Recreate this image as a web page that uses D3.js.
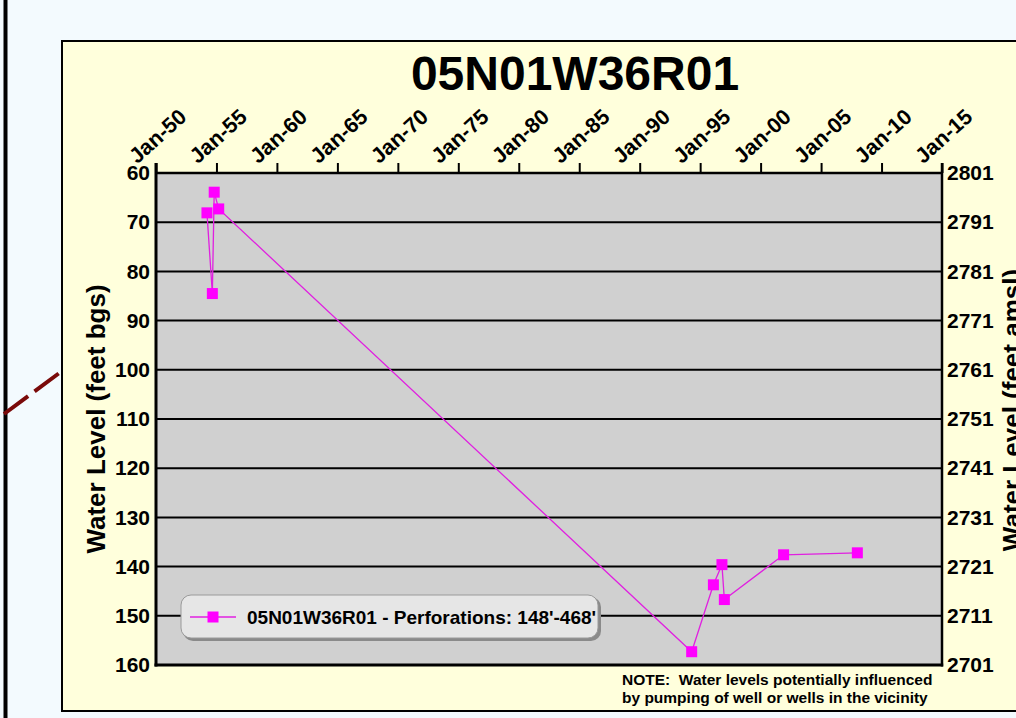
<!DOCTYPE html>
<html>
<head>
<meta charset="utf-8">
<script src="https://cdn.jsdelivr.net/npm/d3@7"></script>
<style>
  html, body { margin: 0; padding: 0; background: #F3FAFE; }
  svg { display: block; }
  text { font-family: "Liberation Sans", Arial, sans-serif; font-weight: bold; fill: #000; }
</style>
</head>
<body>
<svg id="chart" width="1016" height="718"></svg>
<script>
// ---- data ----
const wellName = "05N01W36R01";
const legendLabel = "05N01W36R01 - Perforations: 148'-468'";
const measureDates = ["1954-03-20", "1954-08-30", "1954-10-25", "1955-03-10", "1994-04-20",
                      "1996-02-05", "1996-10-20", "1997-01-01", "2001-11-25", "2008-01-01"];
const depthBgs = [68.1, 84.5, 63.9, 67.3, 157.3, 143.7, 139.6, 146.7, 137.6, 137.2];
const xTickYears = [1950, 1955, 1960, 1965, 1970, 1975, 1980, 1985, 1990, 1995, 2000, 2005, 2010, 2015];
const leftTicks = [60, 70, 80, 90, 100, 110, 120, 130, 140, 150, 160];
const rightTicks = [2801, 2791, 2781, 2771, 2761, 2751, 2741, 2731, 2721, 2711, 2701];
const noteLines = ["NOTE:  Water levels potentially influenced", "by pumping of well or wells in the vicinity"];

// ---- layout ----
const svg = d3.select("#chart");
const P = { left: 156, right: 942, top: 173, bottom: 665 };

// page furniture
svg.append("rect").attr("x", 0).attr("y", 0).attr("width", 1016).attr("height", 718).attr("fill", "#F3FAFE");
svg.append("rect").attr("x", 3.5).attr("y", 0).attr("width", 4).attr("height", 718).attr("fill", "#000");
svg.append("line").attr("x1", 4).attr("y1", 414).attr("x2", 62).attr("y2", 371)
   .attr("stroke", "#7A0A0A").attr("stroke-width", 4).attr("stroke-dasharray", "30,8");

// panel
svg.append("rect").attr("x", 62).attr("y", 41).attr("width", 1000).attr("height", 670)
   .attr("fill", "#FFFFDC").attr("stroke", "#000").attr("stroke-width", 2);

// scales
const x = d3.scaleTime()
  .domain([new Date(1950, 0, 1), new Date(2015, 0, 1)])
  .range([P.left, P.right]);
const y = d3.scaleLinear().domain([60, 160]).range([P.top, P.bottom]);
const yR = d3.scaleLinear().domain([2801, 2701]).range([P.top, P.bottom]);

// plot background
svg.append("rect").attr("x", P.left).attr("y", P.top)
   .attr("width", P.right - P.left).attr("height", P.bottom - P.top)
   .attr("fill", "#D0D0D0");

// gridlines
svg.append("g").selectAll("line").data(leftTicks).join("line")
   .attr("x1", P.left).attr("x2", P.right)
   .attr("y1", d => y(d)).attr("y2", d => y(d))
   .attr("stroke", "#000").attr("stroke-width", 2);

// top axis (dates)
const xAxis = d3.axisTop(x)
  .tickValues(xTickYears.map(yr => new Date(yr, 0, 1)))
  .tickFormat(d3.timeFormat("%b-%y"))
  .tickSize(10).tickSizeOuter(0);
const gx = svg.append("g").attr("transform", `translate(0,${P.top})`).call(xAxis);
gx.attr("font-size", null).attr("font-family", null);
gx.select(".domain").remove();
gx.selectAll(".tick line").attr("stroke", "#000").attr("stroke-width", 2);
gx.selectAll(".tick text")
  .style("font-size", "21.5px").attr("fill", "#000")
  .attr("text-anchor", "middle").attr("dy", "0.35em")
  .attr("transform", "translate(1,-37) rotate(-42)").attr("y", 0);

// left axis
const gl = svg.append("g").attr("transform", `translate(${P.left},0)`)
  .call(d3.axisLeft(y).tickValues(leftTicks).tickSize(0).tickPadding(6));
gl.attr("font-size", null).attr("font-family", null);
gl.select(".domain").remove();
gl.selectAll(".tick text").style("font-size", "21px").attr("fill", "#000");

// right axis
const gr = svg.append("g").attr("transform", `translate(${P.right},0)`)
  .call(d3.axisRight(yR).tickValues(rightTicks).tickSize(0).tickPadding(5).tickFormat(d3.format("d")));
gr.attr("font-size", null).attr("font-family", null);
gr.select(".domain").remove();
gr.selectAll(".tick text").style("font-size", "21px").attr("fill", "#000");

// plot frame
svg.append("line").attr("x1", P.left).attr("x2", P.left).attr("y1", P.top - 10).attr("y2", P.bottom + 1.5)
   .attr("stroke", "#000").attr("stroke-width", 3);
svg.append("line").attr("x1", P.right).attr("x2", P.right).attr("y1", P.top - 10).attr("y2", P.bottom + 1.5)
   .attr("stroke", "#000").attr("stroke-width", 2.5);
svg.append("line").attr("x1", P.left).attr("x2", P.right).attr("y1", P.top).attr("y2", P.top)
   .attr("stroke", "#000").attr("stroke-width", 2.5);
svg.append("line").attr("x1", P.left - 1.5).attr("x2", P.right + 1.2).attr("y1", P.bottom).attr("y2", P.bottom)
   .attr("stroke", "#000").attr("stroke-width", 3);

// series
const data = measureDates.map((d, i) => ({ date: new Date(d), v: depthBgs[i] }));
svg.append("path").datum(data)
   .attr("fill", "none").attr("stroke", "#E020E0").attr("stroke-width", 1.3)
   .attr("d", d3.line().x(d => x(d.date)).y(d => y(d.v)));
const ms = 11;
svg.append("g").selectAll("rect").data(data).join("rect")
   .attr("x", d => x(d.date) - ms / 2).attr("y", d => y(d.v) - ms / 2)
   .attr("width", ms).attr("height", ms).attr("fill", "#FF00FF");

// title
svg.append("text").attr("x", 575).attr("y", 90).attr("text-anchor", "middle")
   .style("font-size", "48px").text(wellName);

// axis titles
svg.append("text").attr("transform", "translate(105,419) rotate(-90)")
   .attr("text-anchor", "middle").style("font-size", "26px").text("Water Level (feet bgs)");
svg.append("text").attr("transform", "translate(1021,410) rotate(-90)")
   .attr("text-anchor", "middle").style("font-size", "26px").text("Water Level (feet amsl)");

// legend
const lg = svg.append("g");
lg.append("rect").attr("x", 183).attr("y", 597).attr("width", 418).attr("height", 44).attr("rx", 10)
  .attr("fill", "#8a8a8a");
lg.append("rect").attr("x", 181).attr("y", 595).attr("width", 417).attr("height", 43).attr("rx", 10)
  .attr("fill", "#E6E6E6").attr("stroke", "#9a9a9a").attr("stroke-width", 1);
lg.append("line").attr("x1", 190).attr("x2", 236).attr("y1", 617).attr("y2", 617)
  .attr("stroke", "#E020E0").attr("stroke-width", 1.3);
lg.append("rect").attr("x", 213 - ms / 2).attr("y", 617 - ms / 2).attr("width", ms).attr("height", ms)
  .attr("fill", "#FF00FF");
lg.append("text").attr("x", 247).attr("y", 624).style("font-size", "19px").text(legendLabel);

// note
svg.append("g").selectAll("text").data(noteLines).join("text")
   .attr("x", 622).attr("y", (d, i) => 685 + i * 18)
   .style("font-size", "15.5px").style("white-space", "pre").text(d => d);
</script>
</body>
</html>
